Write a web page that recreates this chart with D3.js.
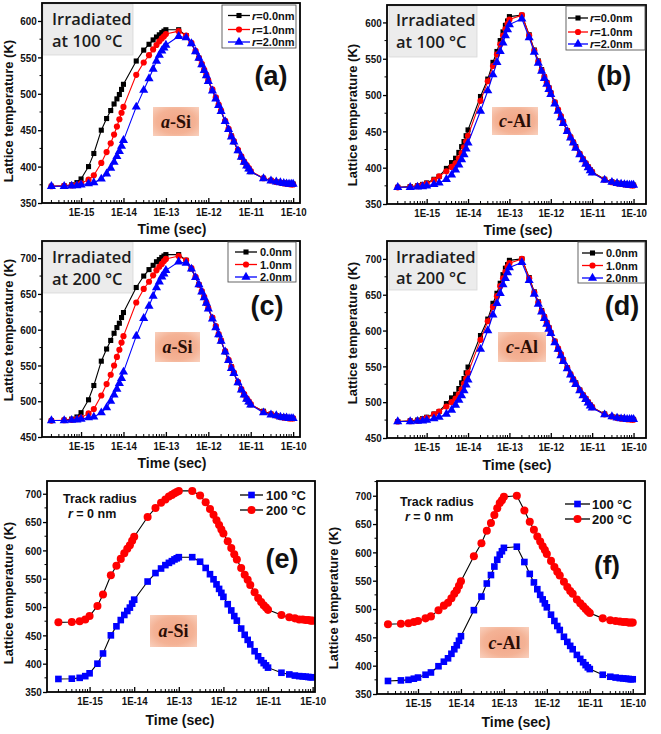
<!DOCTYPE html>
<html><head><meta charset="utf-8">
<script src="https://cdn.jsdelivr.net/npm/d3@7"></script>
<style>body{margin:0;background:#fff}svg{display:block}</style>
</head><body>
<svg id="c" width="661" height="734"></svg>
<script>
// ---------- DATA ----------
const timeSec = [
 2e-16, 4e-16, 6e-16, 8e-16,
 1e-15, 1.5e-15, 2e-15, 3e-15, 4e-15, 5e-15, 6e-15, 7e-15, 8e-15, 9e-15,
 1e-14, 2e-14, 3e-14, 4e-14, 5e-14, 6e-14, 7e-14, 8e-14, 9e-14,
 1e-13, 2e-13, 3e-13, 4e-13, 5e-13, 6e-13, 7e-13, 8e-13, 9e-13,
 1e-12, 1.25e-12, 1.5e-12, 1.75e-12, 2e-12, 2.5e-12, 3e-12, 3.5e-12, 4e-12, 5e-12, 6e-12, 7e-12, 8e-12, 9e-12,
 1e-11, 2e-11, 3e-11, 4e-11, 5e-11, 6e-11, 7e-11, 8e-11, 9e-11,
 1e-10];

// a-Si irradiated at 100 C
const aSi100_r0 = [373,373.5,375,378, 383,400,418,450,466,477,486,493,499,506, 513,545,560,568,574,578,581,584,586,
 588,588,580,569,558,549,540,532,525, 518,505,494,484,476,462,451,442,434,422,413,406,401,397,
 393,384,381,379,378,377.5,377,376.5,376, 376];
const aSi100_r1 = [373,373.5,374,375, 377,382,388,405,420,432,444,455,465,474, 482,526,543,553,561,567,572,576,579,
 582,586,580,570,559,549,541,533,526, 518,506,495,485,477,463,452,442,435,423,414,407,402,398,
 394,384,381,379,378,377,376.5,376,375.5, 375.5];
const aSi100_r2 = [373,373,373.5,374, 375,376.5,378,383,390,398,406,414,421,428, 436,482,505,521,534,545,553,559,563,
 567,579,577,569,558,549,540,532,525, 517,504,493,484,476,462,451,441,434,422,413,406,401,397,
 393,383.5,380.5,379,378,377,376.5,376,376, 376];
// c-Al irradiated at 100 C
const cAl100_r0 = [373,374,375,377, 379,384,388,399,407,413,421,429,436,444, 452,498,522,545,560,575,587,596,602,
 608,610,583,562,547,535,525,517,510, 503,490,479,470,463,451,442,435,429,419,412,406,401,397,
 394,384,380.5,379,378,377.5,377,376.5,376, 376];
const cAl100_r1 = [373,373.5,374.5,376, 378,383,388,395,401,406,413,420,428,436, 444,492,519,540,556,570,582,591,598,
 604,610,582,561,546,534,525,517,510, 503,490,480,471,463,451,442,435,428,419,412,406,401,397,
 394,383.5,380,378.5,377.5,377,376.5,376,375.5, 375.5];
const cAl100_r2 = [373,373,373.5,374, 375,377,379,384,390,397,404,411,418,426, 434,478,506,528,545,560,572,582,590,
 597,605,579,559,544,533,523,515,508, 501,488,478,469,461,450,441,434,427,418,411,405,400,396,
 393,383,380,378.5,377.5,377,376.5,376,376, 376];
// a-Si irradiated at 200 C
const aSi200_r0 = [473,473.5,475,478, 484,502,522,556,573,585,595,603,609,617, 624,659,675,684,690,695,698,701,703,
 705,705,697,685,673,663,653,645,637, 630,616,604,593,584,569,557,548,539,526,516,509,503,499,
 495,486,482,480,478,478,477,477,476, 476];
const aSi200_r1 = [473,473.5,474,475, 477,483,489,508,524,537,550,562,572,582, 591,638,657,667,676,683,688,692,696,
 699,703,697,686,674,663,654,646,638, 630,617,605,594,585,570,558,548,540,527,517,510,504,500,
 496,485,482,480,478,477,477,476,476, 476];
const aSi200_r2 = [473,473,473.5,474, 475,477,478,484,491,500,509,517,525,532, 541,591,616,633,647,659,667,674,678,
 683,695,693,685,673,663,653,645,637, 629,615,603,593,584,569,557,546,539,526,516,509,503,499,
 495,484,481,480,478,477,477,476,476, 476];
// c-Al irradiated at 200 C
const cAl200_r0 = [473,474,475,477, 479,483.5,487,498,506,511,519,527,533,541, 549,593,616,638,652,666,678,687,692,
 698,700,674,654,640,628,619,611,604, 597,585,574,566,559,548,539,532,527,517,510,505,500,496,
 493,483.5,480,479,478,477,477,476,476, 476];
const cAl200_r1 = [473,473.5,474,476, 478,483,487,494,500,505,511,518,526,533, 541,587,613,633,648,662,673,682,689,
 694,700,673,653,639,627,619,611,604, 597,585,575,567,559,548,539,532,526,517,510,505,500,496,
 493,483,480,478,477,477,476,476,475.5, 475.5];
const cAl200_r2 = [473,473,473.5,474, 475,477,479,483.5,489,496,503,509,516,524, 531,574,600,622,638,652,664,673,681,
 688,695,670,651,637,626,617,609,602, 596,583,574,565,557,547,538,531,525,516,509,504,499,495,
 492,482.5,480,478,477,477,476,476,476, 476];

const xTickValues = [1e-15, 1e-14, 1e-13, 1e-12, 1e-11, 1e-10];
const xTickLabels = ["1E-15", "1E-14", "1E-13", "1E-12", "1E-11", "1E-10"];
const yTicksLow  = [350, 400, 450, 500, 550, 600];
const yTicksHigh = [450, 500, 550, 600, 650, 700];
const yTicksWide = [350, 400, 450, 500, 550, 600, 650, 700];
const radiusLabels = ["0.0nm", "1.0nm", "2.0nm"];
const tempLabels = ["100 \u00B0C", "200 \u00B0C"];
const panelLetters = ["(a)", "(b)", "(c)", "(d)", "(e)", "(f)"];
const materials = [["a", "-Si"], ["c", "-Al"]];
const irradTexts = [["Irradiated", "at 100 \u00B0C"], ["Irradiated", "at 200 \u00B0C"]];

// ---------- STYLE / LAYOUT ----------
const SANS = "'Liberation Sans', Arial, sans-serif";
const SERIF = "'Liberation Serif', 'Times New Roman', serif";
const OPEN = "'Open Sans', 'Noto Sans', sans-serif";
const BLK = "#000", RED = "#ff0000", BLU = "#0000ff";

const svg = d3.select("#c");
const defs = svg.append("defs");
const rg = defs.append("radialGradient").attr("id", "salmon").attr("cx", "50%").attr("cy", "50%").attr("r", "70%");
rg.append("stop").attr("offset", "0%").attr("stop-color", "#f2a587");
rg.append("stop").attr("offset", "60%").attr("stop-color", "#f4b295");
rg.append("stop").attr("offset", "100%").attr("stop-color", "#f9d0bd");

const trio = (v0, v1, v2) => [
  {v: v0, fill: BLK, line: BLK, m: "square"},
  {v: v1, fill: RED, line: RED, m: "circle"},
  {v: v2, fill: BLU, line: BLU, m: "triangle"}];

const panels = [
 {frame: [42, 3, 300, 203], xDom: [1.2e-16, 1.45e-10], yDom: [350, 624.7], yTicks: yTicksLow,
  series: trio(aSi100_r0, aSi100_r1, aSi100_r2), mat: 0, matBox: [153, 107, 199, 136], letter: [271, 85, 27],
  irr: {t: 0, box: [43, 4, 133, 55], x: 52, b: [25, 47]},
  leg: {box: [222, 5, 296, 48], rows: [15.5, 29.5, 42], lx: [228, 250], tx: 252, prefix: true},
  ylab: [8, 111], xlab: [172, 234], ms: 1},
 {frame: [387, 5, 646, 204], xDom: [1.1e-16, 2.0e-10], yDom: [350, 624], yTicks: yTicksLow,
  series: trio(cAl100_r0, cAl100_r1, cAl100_r2), mat: 1, matBox: [492, 107, 538, 135], letter: [614, 85, 27],
  irr: {t: 0, box: [389, 6, 477, 57], x: 396, b: [26, 48]},
  leg: {box: [566, 6, 645, 50], rows: [18, 32, 44], lx: [568, 588], tx: 590, prefix: true},
  ylab: [352, 115], xlab: [518, 235], ms: 1},
 {frame: [42, 241, 300, 437], xDom: [1.2e-16, 1.45e-10], yDom: [450, 724], yTicks: yTicksHigh,
  series: trio(aSi200_r0, aSi200_r1, aSi200_r2), mat: 0, matBox: [155, 332, 200, 362], letter: [267, 315, 27],
  irr: {t: 1, box: [43, 242, 133, 293], x: 52, b: [263, 285]},
  leg: {box: [228, 242, 296, 282], rows: [252, 264.5, 277], lx: [235, 257], tx: 260, prefix: false},
  ylab: [8, 330], xlab: [172, 468], ms: 1},
 {frame: [387, 241, 646, 438], xDom: [1.1e-16, 2.0e-10], yDom: [450, 725], yTicks: yTicksHigh,
  series: trio(cAl200_r0, cAl200_r1, cAl200_r2), mat: 1, matBox: [498, 332, 546, 362], letter: [622, 315, 27],
  irr: {t: 1, box: [389, 242, 477, 290], x: 396, b: [263, 284]},
  leg: {box: [578, 242, 645, 283], rows: [253, 265.5, 278], lx: [582, 603], tx: 606, prefix: false},
  ylab: [352, 333], xlab: [517, 470], ms: 1},
 {frame: [47, 481, 315, 692], xDom: [1.11e-16, 1.13e-10], yDom: [350, 722.5], yTicks: yTicksWide,
  series: [{v: aSi100_r0, fill: BLU, line: BLK, m: "square"}, {v: aSi200_r0, fill: RED, line: BLK, m: "circle"}],
  mat: 0, matBox: [150, 615, 197, 647], letter: [282, 568, 27],
  track: {x1: 63, b1: 503, x2: 68, b2: 518},
  leg2: {rows: [495, 510], lx: [240, 263], tx: 266},
  ylab: [8, 593], xlab: [180, 725], ms: 1.3},
 {frame: [377, 481, 645, 694], xDom: [1.11e-16, 1.93e-10], yDom: [350, 726], yTicks: yTicksWide,
  series: [{v: cAl100_r0, fill: BLU, line: BLK, m: "square"}, {v: cAl200_r0, fill: RED, line: BLK, m: "circle"}],
  mat: 1, matBox: [480, 627, 529, 658], letter: [607, 574, 26],
  track: {x1: 400, b1: 506, x2: 405, b2: 521},
  leg2: {rows: [504, 519], lx: [565, 590], tx: 592},
  ylab: [333, 598], xlab: [516, 727], ms: 1.3}
];

function marker(sel, m, scale) {
  const size = m === "square" ? 26 : m === "circle" ? 30 : 36;
  const type = m === "square" ? d3.symbolSquare : m === "circle" ? d3.symbolCircle : d3.symbolTriangle;
  return sel.attr("d", d3.symbol().type(type).size(size * scale * scale)());
}

panels.forEach((p, pi) => {
  const [x0, y0, x1, y1] = p.frame;
  const x = d3.scaleLog().domain(p.xDom).range([x0, x1]);
  const y = d3.scaleLinear().domain(p.yDom).range([y1, y0]);
  const g = svg.append("g");
  const clipId = "clip" + pi;
  defs.append("clipPath").attr("id", clipId).append("rect")
    .attr("x", x0).attr("y", y0).attr("width", x1 - x0).attr("height", y1 - y0);

  // annotation boxes
  if (p.irr) {
    const b = p.irr.box;
    g.append("rect").attr("x", b[0]).attr("y", b[1]).attr("width", b[2] - b[0]).attr("height", b[3] - b[1])
      .attr("fill", "#ececec").attr("stroke", "#d8d8d8").attr("stroke-width", 0.8);
    irradTexts[p.irr.t].forEach((t, i) => {
      g.append("text").attr("x", p.irr.x).attr("y", p.irr.b[i]).text(t)
        .attr("font-family", OPEN).attr("font-weight", 600).attr("font-size", 16.5).attr("fill", "#1c1c1c");
    });
  }
  {
    const b = p.matBox;
    g.append("rect").attr("x", b[0]).attr("y", b[1]).attr("width", b[2] - b[0]).attr("height", b[3] - b[1])
      .attr("fill", "url(#salmon)");
    const t = g.append("text").attr("x", (b[0] + b[2]) / 2).attr("y", (b[1] + b[3]) / 2 + 6)
      .attr("text-anchor", "middle").attr("font-family", SERIF).attr("font-weight", "bold")
      .attr("font-size", 18).attr("fill", "#2a0d05");
    t.append("tspan").attr("font-style", "italic").text(materials[p.mat][0]);
    t.append("tspan").text(materials[p.mat][1]);
  }

  // data
  const dg = g.append("g").attr("clip-path", `url(#${clipId})`);
  p.series.forEach(s => {
    const pts = timeSec.map((t, i) => [t, s.v[i]]);
    dg.append("path").datum(pts)
      .attr("d", d3.line().x(d => x(d[0])).y(d => y(d[1])))
      .attr("fill", "none").attr("stroke", s.line).attr("stroke-width", 1.1);
    dg.selectAll(null).data(pts).enter().append("path")
      .attr("transform", d => `translate(${x(d[0])},${y(d[1])})`)
      .attr("fill", s.fill)
      .call(sel => marker(sel, s.m, p.ms));
  });

  // y axis
  const ya = g.append("g").attr("transform", `translate(${x0},0)`)
    .call(d3.axisLeft(y).tickValues(p.yTicks).tickSize(4).tickPadding(2).tickFormat(d3.format("d")));
  ya.select(".domain").remove();
  ya.selectAll("line").attr("stroke-width", 1.3);
  ya.selectAll("text").attr("font-size", 11.5).attr("font-weight", "bold").attr("font-family", SANS)
    .attr("transform", "scale(0.86,1)").attr("fill", "#111");
  const yMinor = p.yTicks.map(v => v + 25).filter(v => v < p.yDom[1]);
  g.append("g").selectAll("line").data(yMinor).enter().append("line")
    .attr("x1", x0 - 2.5).attr("x2", x0).attr("y1", d => y(d)).attr("y2", d => y(d))
    .attr("stroke", "#000").attr("stroke-width", 1);

  // x axis
  const xa = g.append("g").attr("transform", `translate(0,${y1})`)
    .call(d3.axisBottom(x).tickValues(xTickValues).tickSize(-5).tickPadding(5)
      .tickFormat((d, i) => xTickLabels[i]));
  xa.select(".domain").remove();
  xa.selectAll("line").attr("stroke-width", 1.3);
  xa.selectAll("text").attr("font-size", 11.5).attr("font-weight", "bold").attr("font-family", SANS)
    .attr("transform", "scale(0.84,1)").attr("fill", "#111");
  const xMinor = [];
  for (let e = -16; e <= -10; e++) for (let k = 2; k <= 9; k++) {
    const v = k * Math.pow(10, e);
    if (v > p.xDom[0] && v < p.xDom[1]) xMinor.push(v);
  }
  g.append("g").selectAll("line").data(xMinor).enter().append("line")
    .attr("x1", d => x(d)).attr("x2", d => x(d)).attr("y1", y1).attr("y2", y1 - 3)
    .attr("stroke", "#000").attr("stroke-width", 1);

  // frame
  g.append("rect").attr("x", x0).attr("y", y0).attr("width", x1 - x0).attr("height", y1 - y0)
    .attr("fill", "none").attr("stroke", "#000").attr("stroke-width", 1.8);

  // axis titles
  g.append("text").attr("transform", `translate(${p.ylab[0]},${p.ylab[1]}) rotate(-90)`)
    .attr("text-anchor", "middle").attr("dy", "0.35em").text("Lattice temperature (K)")
    .attr("font-family", SANS).attr("font-weight", "bold").attr("font-size", 13).attr("fill", "#111");
  g.append("text").attr("x", p.xlab[0]).attr("y", p.xlab[1]).attr("text-anchor", "middle")
    .text("Time (sec)").attr("font-family", SANS).attr("font-weight", "bold").attr("font-size", 14).attr("fill", "#111");

  // panel letter
  g.append("text").attr("x", p.letter[0]).attr("y", p.letter[1]).attr("text-anchor", "middle")
    .text(panelLetters[pi]).attr("font-family", SANS).attr("font-weight", "bold")
    .attr("font-size", p.letter[2]).attr("fill", "#111");

  // legend (a-d)
  if (p.leg) {
    const L = p.leg, b = L.box;
    g.append("rect").attr("x", b[0]).attr("y", b[1]).attr("width", b[2] - b[0]).attr("height", b[3] - b[1])
      .attr("fill", "#fff").attr("stroke", "#555").attr("stroke-width", 0.9);
    p.series.forEach((s, i) => {
      const yy = L.rows[i];
      g.append("line").attr("x1", L.lx[0]).attr("x2", L.lx[1]).attr("y1", yy).attr("y2", yy)
        .attr("stroke", s.line).attr("stroke-width", 1.3);
      g.append("path").attr("transform", `translate(${(L.lx[0] + L.lx[1]) / 2},${yy})`).attr("fill", s.fill)
        .call(sel => marker(sel, s.m, 1));
      const t = g.append("text").attr("x", L.tx).attr("y", yy + 4).attr("font-family", SANS)
        .attr("font-weight", "bold").attr("font-size", 11).attr("fill", "#111");
      if (L.prefix) {
        t.append("tspan").attr("font-style", "italic").text("r");
        t.append("tspan").text("=" + radiusLabels[i]);
      } else t.text(radiusLabels[i]);
    });
  }
  // legend (e-f)
  if (p.leg2) {
    const L = p.leg2;
    p.series.forEach((s, i) => {
      const yy = L.rows[i];
      g.append("line").attr("x1", L.lx[0]).attr("x2", L.lx[1]).attr("y1", yy).attr("y2", yy)
        .attr("stroke", "#000").attr("stroke-width", 1.3);
      g.append("path").attr("transform", `translate(${(L.lx[0] + L.lx[1]) / 2},${yy})`).attr("fill", s.fill)
        .call(sel => marker(sel, s.m, 1.3));
      g.append("text").attr("x", L.tx).attr("y", yy + 4.5).text(tempLabels[i]).attr("font-family", SANS)
        .attr("font-weight", "bold").attr("font-size", 13).attr("fill", "#111");
    });
  }
  if (p.track) {
    const T = p.track;
    g.append("text").attr("x", T.x1).attr("y", T.b1).text("Track radius").attr("font-family", SANS)
      .attr("font-weight", "bold").attr("font-size", 12.5).attr("fill", "#111");
    const t = g.append("text").attr("x", T.x2).attr("y", T.b2).attr("font-family", SANS)
      .attr("font-weight", "bold").attr("font-size", 12.5).attr("fill", "#111");
    t.append("tspan").attr("font-style", "italic").text("r");
    t.append("tspan").text(" = 0 nm");
  }
});
</script>
</body></html>
